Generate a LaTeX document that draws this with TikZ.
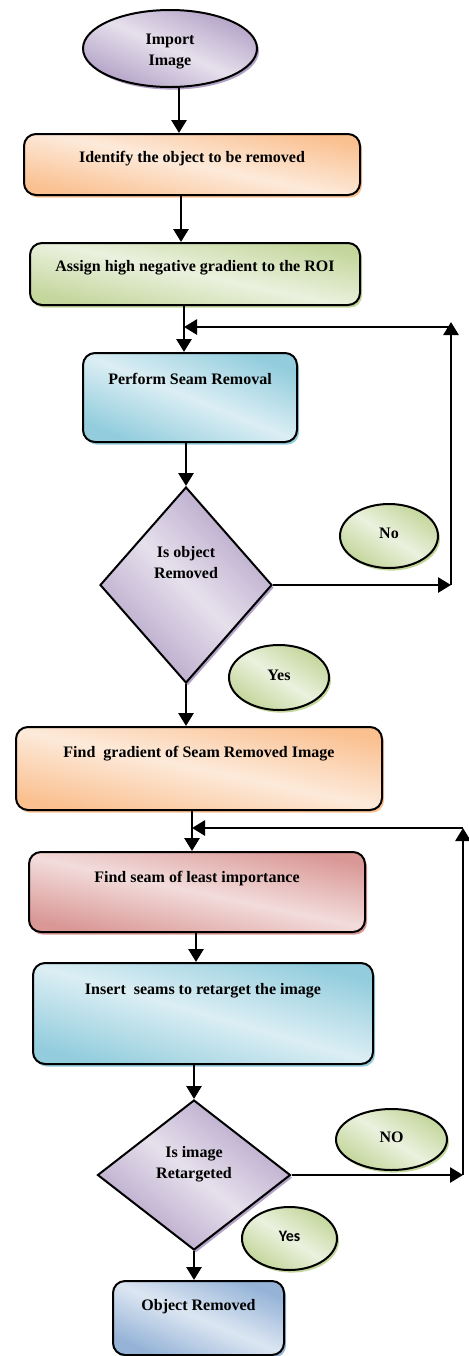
\documentclass[tikz,border=0pt]{standalone}
\usepackage{fontspec}
\setmainfont{Liberation Serif}
\newfontfamily\calfont{Carlito}
\usepackage{tikz}
\usetikzlibrary{shapes.geometric}
\usetikzlibrary{shadows}
\usetikzlibrary{arrows.meta}
\definecolor{orA}{RGB}{250,192,144}
\definecolor{orB}{RGB}{253,234,218}
\definecolor{grA}{RGB}{195,214,155}
\definecolor{grB}{RGB}{235,241,222}
\definecolor{blA}{RGB}{147,205,221}
\definecolor{blB}{RGB}{219,238,244}
\definecolor{puA}{RGB}{179,162,199}
\definecolor{puB}{RGB}{230,224,236}
\definecolor{rdA}{RGB}{217,151,149}
\definecolor{rdB}{RGB}{242,220,219}
\definecolor{stA}{RGB}{149,179,215}
\definecolor{stB}{RGB}{220,230,242}

\begin{document}
\begin{tikzpicture}[x=0.5pt,y=-0.5pt,font=\fontsize{8}{10.5}\selectfont\bfseries,
fl/.style 2 args={left color=#1,right color=#1,middle color=#2,shading angle=-12,
  drop shadow={shadow xshift=1pt,shadow yshift=-1.3pt,fill=#1,opacity=1}},
proc/.style={draw,line width=1pt,rounded corners=6pt,inner xsep=0pt,inner ysep=0pt},
decide/.style={diamond,draw,line width=1pt,inner sep=0pt},
yn/.style={ellipse,draw,line width=1pt,inner sep=0pt,fl={grA}{grB},shading angle=-33,text height=5.5pt,text depth=3pt},
arr/.style={line width=1.4pt,-{Triangle[length=6.5pt,width=7.5pt]}}]
\useasboundingbox (0,0) rectangle (469,1356);

\node [ellipse,draw,line width=1pt,inner sep=0pt,minimum width=87pt,minimum height=38.5pt,fl={puA}{puB},shading angle=-24,label={[align=center,yshift=-1.5pt]center:{Import\\Image}}] (imp) at (170,48.5) {};
\node [proc,fl={orA}{orB},minimum width=168pt,text height=14pt,text depth=16.5pt] (ident) at (192,164.5) {Identify the object to be removed};
\node [proc,fl={grA}{grB},minimum width=165pt,text height=14pt,text depth=17pt] (assign) at (195,274) {Assign high negative gradient to the ROI};
\node [proc,fl={blA}{blB},shading angle=-22,minimum width=107pt,text height=15.5pt,text depth=29pt] (perform) at (190,397.5) {Perform Seam Removal};
\node [decide,fl={puA}{puB},shading angle=-45,minimum width=86pt,minimum height=98pt,label={[align=center,yshift=11pt]center:{Is object\\Removed}}] (isobj) at (186,585) {};
\node [yn,minimum width=49pt,minimum height=32pt] (no1) at (389,536) {No};
\node [yn,minimum width=50pt,minimum height=32.5pt] (yes1) at (279,677.5) {Yes};
\node [proc,fl={orA}{orB},minimum width=183pt,text height=15pt,text depth=26.5pt] (grad) at (199,768.5) {Find~ gradient of Seam Removed Image};
\node [proc,fl={rdA}{rdB},minimum width=168pt,text height=15pt,text depth=25pt] (least) at (197,892) {Find seam of least importance};
\node [proc,fl={blA}{blB},shading angle=-16,minimum width=170pt,text height=15.5pt,text depth=35pt] (insert) at (203,1013.5) {Insert~ seams to retarget the image};
\node [decide,fl={puA}{puB},shading angle=-38,minimum width=96.5pt,minimum height=75pt,label={[align=center,yshift=5.25pt]center:{Is image\\Retargeted}}] (isret) at (194,1175) {};
\node [yn,minimum width=55.5pt,minimum height=30.5pt] (no2) at (391.5,1139.5) {NO};
\node [yn,minimum width=47.5pt,minimum height=31.5pt,font=\fontsize{8}{10.5}\selectfont\calfont\bfseries] (yes2) at (289.5,1238.5) {Yes};
\node [proc,fl={stA}{stB},shading angle=-23,minimum width=85.5pt,text height=14.5pt,text depth=22.5pt] (done) at (198.5,1318) {Object Removed};

% main flow
\draw [arr] ([xshift=4.5pt]imp.south) -- ([xshift=4.5pt]imp.south |- ident.north);
\draw [arr] ([xshift=-5.5pt]ident.south) -- ([xshift=-5.5pt]ident.south |- assign.north);
\draw [arr] ([xshift=-5.5pt]assign.south) -- ([xshift=-5.5pt]assign.south |- perform.north);
\draw [arr] (perform.south -| isobj.north) -- (isobj.north);
\draw [arr] (isobj.south) -- (isobj.south |- grad.north);
\draw [arr] ([xshift=-3.5pt]grad.south) -- ([xshift=-3.5pt]grad.south |- least.north);
\draw [arr] ([xshift=-0.5pt]least.south) -- ([xshift=-0.5pt]least.south |- insert.north);
\draw [arr] (insert.south -| isret.north) -- (isret.north);
\draw [arr] (isret.south) -- (isret.south |- done.north);

% loops back
\coordinate (r1) at (451,585);
\coordinate (u1) at (451,327);
\coordinate (j1) at ([xshift=-5.5pt]assign.south);
\draw [arr] (isobj.east) -- (r1);
\draw [arr] (r1) -- ([yshift=2.5pt]u1);
\draw [arr] (u1) -- (u1 -| j1);

\coordinate (r2) at (463,1175);
\coordinate (u2) at (463,828);
\coordinate (j2) at ([xshift=-3.5pt]grad.south);
\draw [arr] (isret.east) -- (r2);
\draw [arr] (r2) -- (u2);
\draw [arr] (u2) -- (u2 -| j2);
\end{tikzpicture}
\end{document}
